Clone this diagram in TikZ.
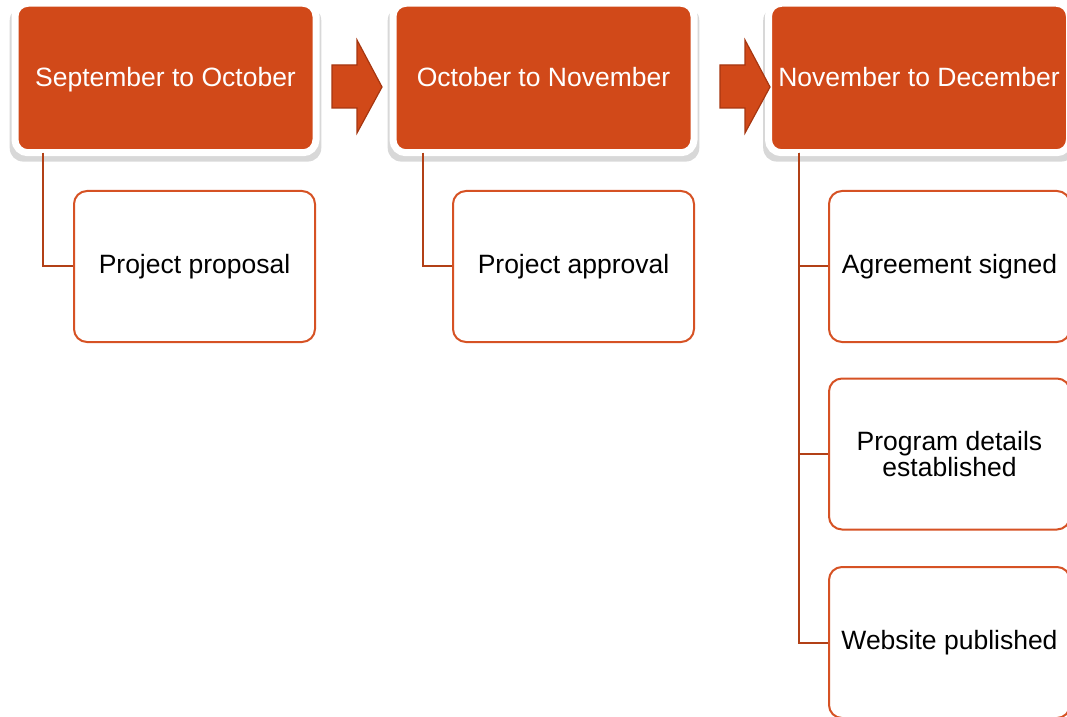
\documentclass[tikz,border=0pt]{standalone}
\usepackage{fontspec}
\setmainfont{Liberation Sans}
\usetikzlibrary{calc,shadows}
\definecolor{phaseorange}{RGB}{209,73,25}
\definecolor{linkbrown}{RGB}{178,64,22}
\definecolor{taskborder}{RGB}{214,82,36}
\definecolor{arrowedge}{RGB}{166,54,16}
\tikzset{
	phase/.style={draw=white, line width=3.5pt, fill=phaseorange, rounded corners=6.5pt,
		minimum width=150.5pt, minimum height=74.75pt, inner sep=0pt, outer sep=0pt,
		text height=11.5pt, text depth=2.5pt,
		text=white, font=\fontsize{13.25}{13.5}\selectfont,
		drop shadow={shadow xshift=0pt, shadow yshift=-3pt, shadow scale=1.035,
			opacity=0.22, fill=black!70}},
	task/.style={draw=taskborder, line width=1pt, fill=white, rounded corners=6.5pt,
		minimum width=120.5pt, minimum height=75.5pt, inner sep=0pt, align=center,
		font=\fontsize{13.25}{13.3}\selectfont},
	link/.style={draw=linkbrown, line width=1pt},
	blockarrow/.style={fill=phaseorange, draw=arrowedge, line width=0.6pt, line join=miter}
}

\begin{document}
\begin{tikzpicture}[x=0.5pt, y=-0.5pt]
	\useasboundingbox (0,0) rectangle (1067,717);

	% Phases
	\node[phase] (p1) at (165.5,78) {September to October}; %first phase
	\node[phase] (p2) at (543.5,78) {October to November}; %second phase
	\node[phase] (p3) at (919,78) {November to December}; %third phase

	% Tasks
	\node[task] (t1) at (194.5,266.5) {Project proposal};
	\node[task] (t2) at (573.5,266.5) {Project approval};
	\node[task] (t3) at (949.5,266.5) {Agreement signed};
	\node[task] (t4) at (949.5,454) {Program details\\established};
	\node[task] (t5) at (949.5,642.5) {Website published};

	% Arrows between phases
	\foreach \ax in {332,720}{
		\draw[blockarrow] (\ax,65) -- (\ax+25,65) -- (\ax+25,40) -- (\ax+50,87)
			-- (\ax+25,133) -- (\ax+25,108) -- (\ax,108) -- cycle;
	}

	% Connectors
	\draw[link] ($(p1.south west)+(28,0)$) |- (t1.west);
	\draw[link] ($(p2.south west)+(30,0)$) |- (t2.west);
	\coordinate (b3) at ($(p3.south west)+(30,0)$); %branch point
	\draw[link] (b3) |- (t5.west);
	\draw[link] (b3) |- (t3.west);
	\draw[link] (b3) |- (t4.west);
\end{tikzpicture}
\end{document}
